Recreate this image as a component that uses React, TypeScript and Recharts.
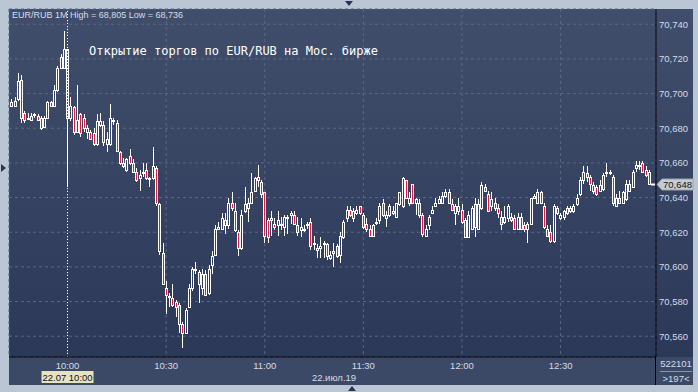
import React from "react";
import { ComposedChart, Bar, XAxis, YAxis, CartesianGrid, ReferenceLine } from "recharts";

// EUR/RUB 1-minute candles, 09:43 .. 12:57 (22.07.19)
const startMinute = 9 * 60 + 43;

const opens = [
  70.693, 70.693, 70.697, 70.708, 70.689, 70.686, 70.685, 70.688, 70.687, 70.686,
  70.681, 70.686, 70.695, 70.693, 70.702, 70.715, 70.715, 70.726, 70.686, 70.692,
  70.678, 70.688, 70.686, 70.678, 70.678, 70.677, 70.671, 70.682, 70.682, 70.671,
  70.671, 70.685, 70.683, 70.666, 70.660, 70.656, 70.664, 70.660, 70.655, 70.651,
  70.655, 70.656, 70.651, 70.651, 70.657, 70.636, 70.608, 70.588, 70.583, 70.582,
  70.580, 70.578, 70.567, 70.562, 70.577, 70.588, 70.599, 70.597, 70.588, 70.596,
  70.585, 70.601, 70.607, 70.622, 70.622, 70.627, 70.624, 70.637, 70.632, 70.620,
  70.611, 70.632, 70.634, 70.637, 70.644, 70.652, 70.649, 70.643, 70.627, 70.628,
  70.625, 70.624, 70.625, 70.623, 70.628, 70.630, 70.630, 70.624, 70.621, 70.621,
  70.624, 70.626, 70.614, 70.611, 70.611, 70.613, 70.613, 70.605, 70.609, 70.612,
  70.607, 70.617, 70.628, 70.633, 70.628, 70.631, 70.635, 70.630, 70.625, 70.622,
  70.618, 70.626, 70.627, 70.637, 70.628, 70.630, 70.632, 70.629, 70.636, 70.635,
  70.650, 70.637, 70.648, 70.637, 70.637, 70.630, 70.618, 70.624, 70.631, 70.635,
  70.637, 70.637, 70.641, 70.643, 70.636, 70.631, 70.632, 70.633, 70.627, 70.617,
  70.622, 70.636, 70.622, 70.634, 70.646, 70.642, 70.635, 70.637, 70.634, 70.629,
  70.626, 70.628, 70.629, 70.628, 70.622, 70.629, 70.624, 70.622, 70.625, 70.640,
  70.637, 70.643, 70.635, 70.622, 70.620, 70.615, 70.634, 70.628, 70.629, 70.634,
  70.632, 70.632, 70.636, 70.642, 70.650, 70.654, 70.652, 70.647, 70.646, 70.644,
  70.645, 70.654, 70.654, 70.652, 70.635, 70.640, 70.637, 70.639, 70.644, 70.646,
  70.657, 70.659, 70.660, 70.656, 70.655,
];

const highs = [
  70.697, 70.698, 70.712, 70.711, 70.690, 70.689, 70.689, 70.689, 70.688, 70.687,
  70.687, 70.696, 70.696, 70.705, 70.716, 70.723, 70.736, 70.726, 70.698, 70.693,
  70.705, 70.689, 70.688, 70.682, 70.679, 70.680, 70.688, 70.689, 70.684, 70.678,
  70.694, 70.686, 70.685, 70.667, 70.663, 70.663, 70.668, 70.662, 70.657, 70.656,
  70.660, 70.660, 70.652, 70.669, 70.658, 70.637, 70.614, 70.592, 70.585, 70.590,
  70.581, 70.579, 70.568, 70.576, 70.590, 70.600, 70.603, 70.598, 70.599, 70.598,
  70.601, 70.609, 70.624, 70.626, 70.631, 70.631, 70.640, 70.643, 70.637, 70.621,
  70.633, 70.646, 70.640, 70.654, 70.652, 70.659, 70.650, 70.643, 70.628, 70.632,
  70.628, 70.632, 70.629, 70.630, 70.630, 70.632, 70.632, 70.629, 70.628, 70.624,
  70.626, 70.628, 70.618, 70.613, 70.617, 70.615, 70.614, 70.609, 70.614, 70.613,
  70.620, 70.627, 70.635, 70.635, 70.634, 70.635, 70.635, 70.631, 70.628, 70.624,
  70.625, 70.628, 70.637, 70.639, 70.632, 70.636, 70.635, 70.637, 70.643, 70.652,
  70.650, 70.643, 70.648, 70.640, 70.639, 70.631, 70.624, 70.630, 70.635, 70.640,
  70.641, 70.643, 70.645, 70.645, 70.639, 70.636, 70.640, 70.636, 70.628, 70.632,
  70.635, 70.640, 70.639, 70.649, 70.648, 70.644, 70.643, 70.640, 70.636, 70.632,
  70.635, 70.636, 70.631, 70.630, 70.631, 70.631, 70.626, 70.626, 70.640, 70.642,
  70.645, 70.644, 70.637, 70.624, 70.624, 70.636, 70.635, 70.631, 70.633, 70.635,
  70.635, 70.636, 70.642, 70.652, 70.658, 70.658, 70.653, 70.649, 70.647, 70.650,
  70.654, 70.660, 70.656, 70.653, 70.642, 70.644, 70.644, 70.650, 70.650, 70.656,
  70.661, 70.661, 70.661, 70.658, 70.656,
];

const lows = [
  70.692, 70.692, 70.696, 70.683, 70.683, 70.685, 70.684, 70.686, 70.684, 70.679,
  70.680, 70.686, 70.692, 70.692, 70.701, 70.715, 70.715, 70.646, 70.684, 70.676,
  70.677, 70.675, 70.678, 70.674, 70.673, 70.670, 70.670, 70.681, 70.670, 70.666,
  70.670, 70.682, 70.666, 70.659, 70.657, 70.655, 70.659, 70.655, 70.649, 70.644,
  70.652, 70.650, 70.646, 70.650, 70.635, 70.607, 70.590, 70.573, 70.577, 70.577,
  70.571, 70.562, 70.553, 70.561, 70.576, 70.586, 70.596, 70.579, 70.584, 70.583,
  70.584, 70.596, 70.607, 70.621, 70.622, 70.619, 70.622, 70.632, 70.620, 70.606,
  70.610, 70.631, 70.626, 70.637, 70.643, 70.646, 70.640, 70.614, 70.614, 70.618,
  70.621, 70.618, 70.621, 70.618, 70.619, 70.625, 70.624, 70.618, 70.617, 70.620,
  70.622, 70.610, 70.610, 70.605, 70.605, 70.605, 70.604, 70.604, 70.600, 70.605,
  70.602, 70.616, 70.626, 70.629, 70.626, 70.630, 70.630, 70.622, 70.620, 70.617,
  70.617, 70.624, 70.625, 70.629, 70.623, 70.629, 70.630, 70.629, 70.635, 70.634,
  70.640, 70.635, 70.636, 70.630, 70.628, 70.617, 70.617, 70.621, 70.631, 70.635,
  70.636, 70.636, 70.640, 70.637, 70.632, 70.624, 70.630, 70.625, 70.617, 70.617,
  70.621, 70.617, 70.621, 70.633, 70.643, 70.632, 70.632, 70.632, 70.628, 70.621,
  70.625, 70.626, 70.626, 70.622, 70.621, 70.621, 70.620, 70.614, 70.624, 70.639,
  70.636, 70.636, 70.622, 70.617, 70.614, 70.614, 70.630, 70.627, 70.627, 70.630,
  70.631, 70.631, 70.635, 70.641, 70.648, 70.649, 70.644, 70.642, 70.641, 70.643,
  70.644, 70.652, 70.653, 70.635, 70.635, 70.637, 70.636, 70.638, 70.643, 70.646,
  70.655, 70.656, 70.654, 70.652, 70.647,
];

const closes = [
  70.695, 70.696, 70.707, 70.686, 70.685, 70.686, 70.687, 70.688, 70.685, 70.680,
  70.686, 70.695, 70.693, 70.702, 70.715, 70.721, 70.726, 70.686, 70.693, 70.678,
  70.685, 70.677, 70.680, 70.680, 70.674, 70.671, 70.684, 70.684, 70.672, 70.674,
  70.686, 70.684, 70.667, 70.660, 70.658, 70.662, 70.660, 70.655, 70.650, 70.653,
  70.655, 70.651, 70.651, 70.658, 70.637, 70.609, 70.590, 70.584, 70.583, 70.578,
  70.577, 70.567, 70.562, 70.575, 70.588, 70.599, 70.598, 70.590, 70.596, 70.584,
  70.599, 70.606, 70.622, 70.623, 70.628, 70.624, 70.637, 70.634, 70.621, 70.611,
  70.630, 70.636, 70.637, 70.643, 70.651, 70.650, 70.642, 70.618, 70.617, 70.627,
  70.623, 70.627, 70.624, 70.629, 70.629, 70.631, 70.625, 70.620, 70.623, 70.622,
  70.625, 70.612, 70.613, 70.610, 70.612, 70.614, 70.606, 70.607, 70.608, 70.606,
  70.618, 70.626, 70.633, 70.630, 70.632, 70.633, 70.631, 70.623, 70.622, 70.618,
  70.624, 70.626, 70.635, 70.630, 70.630, 70.635, 70.631, 70.637, 70.643, 70.651,
  70.640, 70.640, 70.637, 70.639, 70.630, 70.619, 70.622, 70.629, 70.633, 70.637,
  70.639, 70.641, 70.643, 70.637, 70.633, 70.635, 70.635, 70.626, 70.617, 70.630,
  70.634, 70.623, 70.636, 70.647, 70.644, 70.632, 70.639, 70.634, 70.631, 70.625,
  70.629, 70.635, 70.627, 70.622, 70.629, 70.622, 70.622, 70.625, 70.640, 70.641,
  70.643, 70.637, 70.623, 70.618, 70.615, 70.635, 70.631, 70.630, 70.632, 70.631,
  70.634, 70.635, 70.640, 70.650, 70.655, 70.652, 70.648, 70.644, 70.642, 70.647,
  70.653, 70.655, 70.655, 70.637, 70.640, 70.637, 70.643, 70.648, 70.648, 70.655,
  70.659, 70.658, 70.655, 70.653, 70.648,
];

const xTicks = ["10:00", "10:30", "11:00", "11:30", "12:00", "12:30"];
const yTicks = [70.56, 70.58, 70.6, 70.62, 70.64, 70.66, 70.68, 70.7, 70.72, 70.74];
const yDomain = [70.548, 70.7488];

const titleText = "EUR/RUB 1M High = 68,805 Low = 68,736";
const noteText = "Открытие торгов по EUR/RUB на Мос. бирже";
const cursorTime = "10:00";
const cursorLabel = "22.07 10:00";
const dateLabel = "22.июл.19";
const volumeLabel = "522101";
const countLabel = ">197<";
const lastPrice = closes[closes.length - 1];

const pad = (n: number) => String(n).padStart(2, "0");
const data = opens.map((open, i) => {
  const m = startMinute + i;
  return {
    time: `${pad(Math.floor(m / 60))}:${pad(m % 60)}`,
    open,
    high: highs[i],
    low: lows[i],
    close: closes[i],
  };
});

const FONT = "'Liberation Sans', Arial, sans-serif";
const fmtPrice = (v: number) => v.toFixed(3).replace(".", ",");

const Candle = (props: any) => {
  const { x, y, width, height, payload } = props;
  if (x == null || y == null || !payload) return null;
  const { open, close, high, low } = payload;
  const top = Math.min(y, y + height);
  const h = Math.abs(height);
  const k = high - low > 0 ? h / (high - low) : 0;
  const py = (v: number) => Math.round(top + (high - v) * k);
  const cx = Math.floor(x + width / 2) + 0.5;
  const up = close >= open;
  const bTop = py(Math.max(open, close));
  let bBot = py(Math.min(open, close));
  if (bBot - bTop < 1) bBot = bTop + 1;
  const yh = py(high);
  const yl = py(low);
  return (
    <g>
      {yh < bTop && <line x1={cx} x2={cx} y1={yh} y2={bTop} stroke="#fff" />}
      {yl > bBot && <line x1={cx} x2={cx} y1={bBot} y2={yl} stroke="#fff" />}
      <rect
        x={cx - 1}
        y={bTop + 0.5}
        width={2}
        height={bBot - bTop}
        fill={up ? "none" : "#e8173f"}
        stroke="#fff"
        strokeWidth={1}
      />
    </g>
  );
};

// price tag on the right axis, placed by the y scale of the reference line
const PriceTag = (props: any) => {
  const vb = props.viewBox;
  if (!vb) return null;
  const x = vb.x + vb.width;
  const y = Math.round(vb.y) + 0.5;
  return (
    <g>
      <line x1={x - 5} x2={x - 1} y1={y} y2={y} stroke="#fff" strokeWidth={2} />
      <path
        d={`M${x + 1},${y} L${x + 6},${y - 5.5} H${x + 37} V${y + 5.5} H${x + 6} Z`}
        fill="#c8ccd2"
        stroke="#9aa2ae"
      />
      <text x={x + 7} y={y + 3.5} fontSize={9.5} fontFamily={FONT} fill="#111">
        {fmtPrice(lastPrice)}
      </text>
    </g>
  );
};

// date/time box under the cursor line
const CursorTag = (props: any) => {
  const vb = props.viewBox;
  if (!vb) return null;
  const cx = vb.x;
  const by = vb.y + vb.height + 14;
  return (
    <g>
      <rect x={cx - 26} y={by} width={52} height={12} fill="#e6e3c3" />
      <text x={cx} y={by + 9.5} textAnchor="middle" fontSize={9.5} fontFamily={FONT} fill="#111">
        {cursorLabel}
      </text>
    </g>
  );
};

export default function App() {
  return (
    <div
      style={{
        position: "absolute",
        left: 0,
        top: 0,
        width: 698,
        height: 392,
        background: "#bac6d4",
        overflow: "hidden",
      }}
    >
      {/* panels */}
      <div style={{ position: "absolute", left: 9, top: 9, width: 684, height: 376, background: "#3c4966" }} />
      <div
        style={{
          position: "absolute",
          left: 9,
          top: 9,
          width: 684,
          height: 348,
          background: "linear-gradient(#414e6b, #2b3858)",
        }}
      />

      <div style={{ position: "absolute", left: 0, top: 0 }}>
        <ComposedChart
          width={698}
          height={392}
          data={data}
          margin={{ top: 9, right: 5, bottom: 7, left: 9 }}
        >
          <CartesianGrid stroke="#5a6786" strokeDasharray="3 3" />
          <XAxis
            dataKey="time"
            ticks={xTicks}
            interval={0}
            padding={{ left: 1, right: 5 }}
            height={28}
            axisLine={{ stroke: "#000" }}
            tickLine={false}
            tickSize={0}
            tickMargin={5}
            tick={{ fontSize: 9.5, fill: "#d4dbe6", fontFamily: FONT }}
          />
          <YAxis
            orientation="right"
            domain={yDomain}
            ticks={yTicks}
            allowDataOverflow
            width={37}
            axisLine={{ stroke: "#000" }}
            tickLine={false}
            tickSize={0}
            tickMargin={3}
            tickFormatter={fmtPrice}
            tick={{ fontSize: 9.5, fill: "#d4dbe6", fontFamily: FONT }}
          />
          <ReferenceLine
            x={cursorTime}
            stroke="#ffffff"
            strokeDasharray="1 2"
            label={<CursorTag />}
          />
          <Bar
            dataKey={(d: any) => [d.low, d.high]}
            shape={<Candle />}
            isAnimationActive={false}
          />
          <ReferenceLine y={lastPrice} stroke="transparent" label={<PriceTag />} />
        </ComposedChart>
      </div>

      {/* texts and frame marks */}
      <svg
        width={698}
        height={392}
        style={{ position: "absolute", left: 0, top: 0, pointerEvents: "none" }}
      >
        <text x={12} y={18} fontSize={9} fontFamily={FONT} fill="#d6dde8">
          {titleText}
        </text>
        <text x={89} y={55} fontSize={12} fontFamily="'DejaVu Sans Mono', monospace" fill="#ffffff">
          {noteText}
        </text>
        <text x={334} y={381} textAnchor="middle" fontSize={9.5} fontFamily={FONT} fill="#d4dbe6">
          {dateLabel}
        </text>
        <line x1={655.5} x2={655.5} y1={357} y2={385} stroke="#000" />
        <line x1={660} x2={692} y1={371.5} y2={371.5} stroke="#8a95a8" />
        <text x={676} y={367} textAnchor="middle" fontSize={9.5} fontFamily={FONT} fill="#d4dbe6">
          {volumeLabel}
        </text>
        <text x={676} y={382} textAnchor="middle" fontSize={9.5} fontFamily={FONT} fill="#d4dbe6">
          {countLabel}
        </text>
        <path d="M345,1 L353,1 L349,6 Z" fill="#2a3450" />
        <path d="M348,391 L356,391 L352,386 Z" fill="#2a3450" />
        <path d="M1,164 L1,172 L6,168 Z" fill="#2a3450" />
      </svg>
    </div>
  );
}
